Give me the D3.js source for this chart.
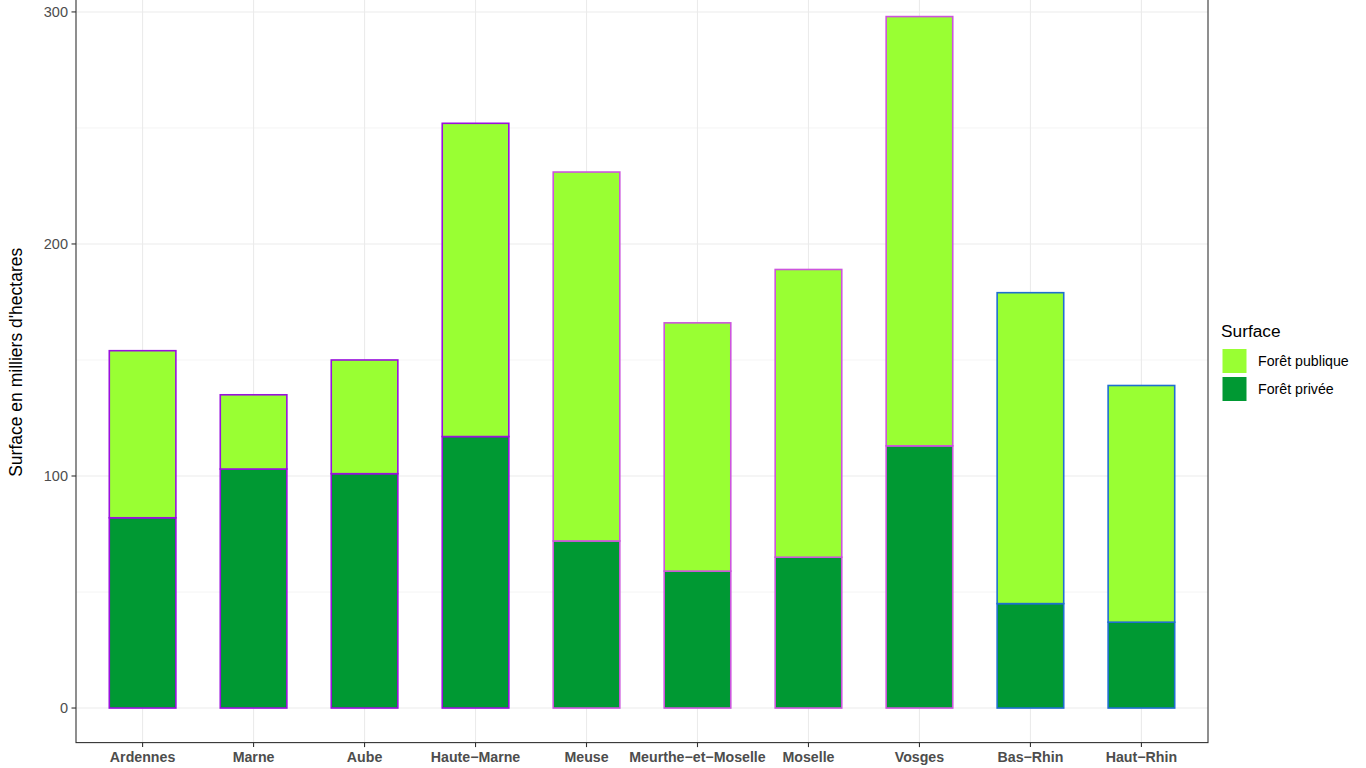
<!DOCTYPE html>
<html>
<head>
<meta charset="utf-8">
<script src="https://cdn.jsdelivr.net/npm/d3@7/dist/d3.min.js"></script>
<style>
html,body{margin:0;padding:0;background:#fff;}
svg{display:block;font-family:"Liberation Sans",Arial,Helvetica,sans-serif;}
</style>
</head>
<body>
<svg id="chart" width="1366" height="768"></svg>
<script>
const departements = ["Ardennes","Marne","Aube","Haute-Marne","Meuse","Meurthe-et-Moselle","Moselle","Vosges","Bas-Rhin","Haut-Rhin"];
const regions = ["Champagne-Ardenne","Champagne-Ardenne","Champagne-Ardenne","Champagne-Ardenne","Lorraine","Lorraine","Lorraine","Lorraine","Alsace","Alsace"];
const foretPrivee = [82, 103, 101, 117, 72, 59, 65, 113, 45, 37];
const foretPublique = [72, 32, 49, 135, 159, 107, 124, 185, 134, 102];
const yTicks = [0, 100, 200, 300];
const yMinorTicks = [50, 150, 250];
const seriesNames = ["Forêt publique", "Forêt privée"];
const seriesColors = {"Forêt publique": "#99FF33", "Forêt privée": "#009933"};
const regionStroke = {"Champagne-Ardenne": "#9911DD", "Lorraine": "#CC55DD", "Alsace": "#1F6FD0"};

const svg = d3.select("#chart");
const panel = {left: 76, right: 1208, top: -18, bottom: 742.6};

const totals = departements.map((d, i) => foretPrivee[i] + foretPublique[i]);
const maxT = d3.max(totals);
const pad = maxT * 0.05;
const y = d3.scaleLinear().domain([-pad, maxT + pad]).range([panel.bottom, panel.top]);
// ggplot-like discrete positioning: centers at i+1 within [0.4, n+0.6]
const n = departements.length;
const xc = d3.scaleLinear().domain([0.4, n + 0.6]).range([panel.left, panel.right]);
const step = xc(2) - xc(1);
const barW = step * 0.6;

svg.append("rect").attr("x", panel.left).attr("y", panel.top).attr("width", panel.right - panel.left).attr("height", panel.bottom - panel.top).attr("fill", "#fff");

// minor grid
svg.append("g").selectAll("line").data(yMinorTicks).join("line")
  .attr("x1", panel.left).attr("x2", panel.right)
  .attr("y1", d => y(d)).attr("y2", d => y(d))
  .attr("stroke", "#ebebeb").attr("stroke-width", 0.55);
// major grid
svg.append("g").selectAll("line").data(yTicks).join("line")
  .attr("x1", panel.left).attr("x2", panel.right)
  .attr("y1", d => y(d)).attr("y2", d => y(d))
  .attr("stroke", "#ebebeb").attr("stroke-width", 1.1);
svg.append("g").selectAll("line").data(departements).join("line")
  .attr("x1", (d, i) => xc(i + 1)).attr("x2", (d, i) => xc(i + 1))
  .attr("y1", panel.top).attr("y2", panel.bottom)
  .attr("stroke", "#ebebeb").attr("stroke-width", 1.1);

// bars
const bars = svg.append("g");
departements.forEach((d, i) => {
  const cx = xc(i + 1);
  const stroke = regionStroke[regions[i]];
  bars.append("rect")
    .attr("x", cx - barW / 2).attr("width", barW)
    .attr("y", y(foretPrivee[i])).attr("height", y(0) - y(foretPrivee[i]))
    .attr("fill", seriesColors["Forêt privée"]).attr("stroke", stroke).attr("stroke-width", 1.6);
  bars.append("rect")
    .attr("x", cx - barW / 2).attr("width", barW)
    .attr("y", y(totals[i])).attr("height", y(foretPrivee[i]) - y(totals[i]))
    .attr("fill", seriesColors["Forêt publique"]).attr("stroke", stroke).attr("stroke-width", 1.6);
});

// panel border
svg.append("rect").attr("x", panel.left).attr("y", panel.top).attr("width", panel.right - panel.left).attr("height", panel.bottom - panel.top)
  .attr("fill", "none").attr("stroke", "#333333").attr("stroke-width", 1.1);

// y axis ticks & labels
const yAxis = svg.append("g");
yAxis.selectAll("line").data(yTicks).join("line")
  .attr("x1", panel.left - 4.5).attr("x2", panel.left)
  .attr("y1", d => y(d)).attr("y2", d => y(d))
  .attr("stroke", "#333333").attr("stroke-width", 1.1);
yAxis.selectAll("text").data(yTicks).join("text")
  .attr("x", panel.left - 8).attr("y", d => y(d))
  .attr("dy", "0.35em").attr("text-anchor", "end")
  .attr("font-size", 14.5).attr("fill", "#4d4d4d").text(d => d);

// x axis ticks & labels
const xAxis = svg.append("g");
xAxis.selectAll("line").data(departements).join("line")
  .attr("x1", (d, i) => xc(i + 1)).attr("x2", (d, i) => xc(i + 1))
  .attr("y1", panel.bottom).attr("y2", panel.bottom + 4.5)
  .attr("stroke", "#333333").attr("stroke-width", 1.1);
xAxis.selectAll("text").data(departements).join("text")
  .attr("x", (d, i) => xc(i + 1)).attr("y", 761.5)
  .attr("text-anchor", "middle").attr("font-size", 14.2).attr("font-weight", "bold")
  .attr("fill", "#4d4d4d").text(d => d.replace(/-/g, "\u2212"));

// y title
svg.append("text")
  .attr("transform", `translate(22,${(panel.top + panel.bottom) / 2}) rotate(-90)`)
  .attr("text-anchor", "middle").attr("font-size", 17.5).attr("fill", "#000")
  .text("Surface en milliers d'hectares");

// legend
const lg = svg.append("g").attr("transform", "translate(1221,0)");
lg.append("text").attr("x", 0).attr("y", 337).attr("font-size", 17.3).attr("fill", "#000").text("Surface");
seriesNames.forEach((s, i) => {
  const ky = 348.5 + i * 28;
  lg.append("rect").attr("x", 1).attr("y", ky).attr("width", 25).attr("height", 25)
    .attr("fill", seriesColors[s]).attr("stroke", "#fff").attr("stroke-width", 1);
  lg.append("text").attr("x", 37).attr("y", ky + 12.5).attr("dy", "0.35em")
    .attr("font-size", 14.2).attr("fill", "#000").text(s);
});
</script>
</body>
</html>
